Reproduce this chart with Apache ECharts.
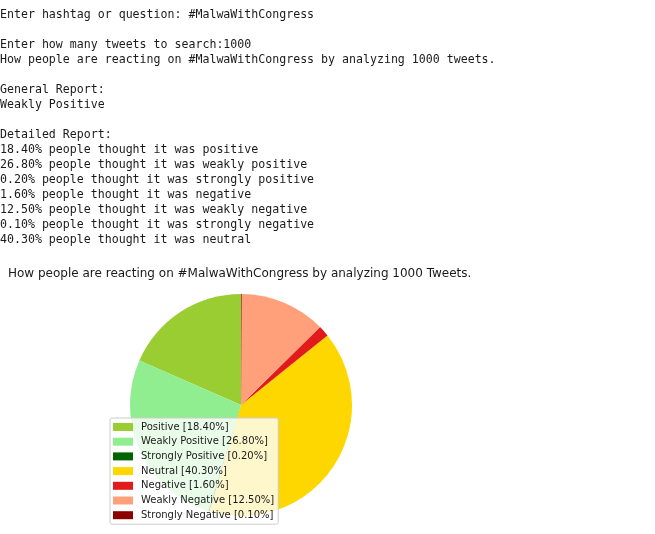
<!DOCTYPE html>
<html>
<head>
<meta charset="utf-8">
<script src="https://cdn.jsdelivr.net/npm/echarts@6/dist/echarts.min.js"></script>
<style>
html,body{margin:0;padding:0;background:#fff;}
#chart{width:655px;height:534px;}
</style>
</head>
<body>
<div id="chart"></div>
<script>
// Console output lines
var consoleLines = [
  "Enter hashtag or question: #MalwaWithCongress",
  "",
  "Enter how many tweets to search:1000",
  "How people are reacting on #MalwaWithCongress by analyzing 1000 tweets.",
  "",
  "General Report:",
  "Weakly Positive",
  "",
  "Detailed Report:",
  "18.40% people thought it was positive",
  "26.80% people thought it was weakly positive",
  "0.20% people thought it was strongly positive",
  "1.60% people thought it was negative",
  "12.50% people thought it was weakly negative",
  "0.10% people thought it was strongly negative",
  "40.30% people thought it was neutral"
];

var chartTitle = "How people are reacting on #MalwaWithCongress by analyzing 1000 Tweets.";

// Pie data
var categories = ["Positive", "Weakly Positive", "Strongly Positive", "Neutral", "Negative", "Weakly Negative", "Strongly Negative"];
var values = [18.40, 26.80, 0.20, 40.30, 1.60, 12.50, 0.10];
var colors = ["#9acd32", "#90ee90", "#006400", "#ffd700", "#e31a1c", "#ffa07a", "#8b0000"];

var chart = echarts.init(document.getElementById('chart'));

var pieData = categories.map(function (c, i) {
  return { name: c, value: values[i], itemStyle: { color: colors[i] } };
});

var option = {
  backgroundColor: '#ffffff',
  animation: false,
  title: {
    text: chartTitle,
    left: 8,
    top: 268,
    padding: 0,
    textStyle: {
      fontFamily: 'DejaVu Sans',
      fontSize: 12,
      fontWeight: 'normal',
      color: '#1a1a1a'
    }
  },
  graphic: [{
    type: 'text',
    left: 0,
    top: 7,
    style: {
      text: consoleLines.join('\n'),
      font: '11.6px "DejaVu Sans Mono"',
      lineHeight: 15,
      fill: '#1a1a1a'
    }
  }],
  legend: {
    orient: 'vertical',
    left: 110,
    top: 418,
    height: 110,
    itemWidth: 20,
    itemHeight: 8,
    itemGap: 2.7,
    padding: [3, 4, 3, 3],
    backgroundColor: 'rgba(255,255,255,0.8)',
    borderColor: '#cccccc',
    borderWidth: 1,
    borderRadius: 2,
    icon: 'rect',
    textStyle: {
      fontFamily: 'DejaVu Sans',
      fontSize: 10,
      lineHeight: 12,
      color: '#1a1a1a',
      padding: [0, 0, 0, 3]
    },
    data: categories,
    formatter: function (name) {
      var i = categories.indexOf(name);
      return name + ' [' + values[i].toFixed(2) + '%]';
    }
  },
  series: [{
    type: 'pie',
    center: [241, 405],
    radius: 111,
    startAngle: 90,
    clockwise: false,
    avoidLabelOverlap: false,
    label: { show: false },
    labelLine: { show: false },
    emphasis: { disabled: true },
    itemStyle: { borderWidth: 0 },
    data: pieData
  }]
};

chart.setOption(option);
</script>
</body>
</html>
